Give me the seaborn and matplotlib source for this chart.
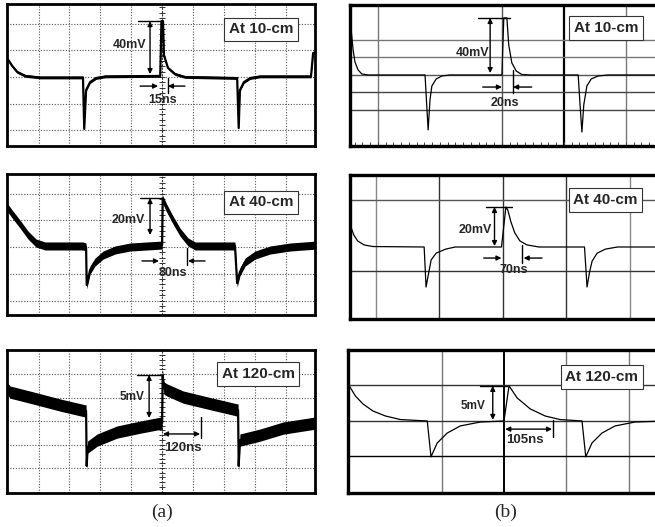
import numpy as np
import matplotlib
matplotlib.use('Agg')
import matplotlib.pyplot as plt
import seaborn as sns

# traces, in scope divisions (x: time div, y: volt div)
# (a) measured
a10_t = [-5.02, -4.85, -4.69, -4.43, -3.95, -2.56, -2.52, -2.46, -2.33, -2.14, -1.84,
         -0.06, -0.02, 0.03, 0.06, 0.19, 0.42, 0.74, 2.43, 2.48, 2.52, 2.65, 2.85,
         3.17, 4.82, 4.89, 4.95]
a10_v = [0.71, 0.41, 0.19, 0.04, -0.02, -0.02, -1.94, -0.49, -0.19, -0.04, 0.02,
         0.04, 2.09, 2.09, 0.82, 0.34, 0.11, 0.0, -0.04, -1.91, -0.49, -0.19, -0.04,
         0.02, 0.02, 0.9, 0.9]

a40_t = [-5.02, -4.85, -4.6, -4.34, -4.08, -3.79, -2.56, -2.46, -2.44, -2.33, -2.17,
         -1.91, -1.52, -1.04, -0.06, 0.0, 0.02, 0.13, 0.32, 0.58, 0.84, 1.07, 2.36,
         2.43, 2.52, 2.69, 3.01, 3.5, 4.14, 4.95]
a40_v = [1.5, 1.23, 0.86, 0.45, 0.15, 0.04, 0.04, 0.0, -1.42, -0.86, -0.56,
         -0.3, -0.11, 0.0, 0.07, 0.07, 1.79, 1.5, 1.08, 0.56, 0.19, 0.04, 0.04,
         -1.35, -0.93, -0.56, -0.3, -0.11, 0.0, 0.07]

a120_t = [-5.02, -4.92, -4.17, -3.3, -2.49, -2.46, -2.44, -2.41, -2.1, -1.46, -0.71,
          -0.03, 0.0, 0.02, 0.06, 0.16, 0.68, 1.46, 2.43, 2.46, 2.48, 2.52, 3.17,
          3.92, 4.95]
a120_v = [1.4, 1.23, 0.98, 0.68, 0.43, 0.43, -1.91, -1.11, -0.81, -0.47, -0.26,
          -0.09, -0.09, 1.91, 1.4, 1.32, 1.02, 0.77, 0.47, 0.47, -1.91, -0.81, -0.6,
          -0.3, -0.09]

# (b) simulated
b10_t = [-2.44, -2.4, -2.37, -2.32, -2.26, -2.16, -1.24, -1.19, -1.16, -1.13, -1.06,
         -0.97, -0.84, 0.0, 0.03, 0.08, 0.11, 0.16, 0.23, 0.32, 0.45, 1.23, 1.26,
         1.29, 1.32, 1.37, 1.44, 1.55, 1.71, 2.63]
b10_v = [2.91, 1.43, 0.74, 0.29, 0.06, 0.0, 0.0, -3.14, -1.43, -0.63, -0.23,
         -0.06, 0.0, 0.0, 3.26, 3.26, 1.71, 0.69, 0.23, 0.03, 0.0, 0.0, -1.71,
         -3.26, -1.71, -0.63, -0.23, -0.06, 0.0, 0.0]

b40_t = [-2.43, -2.4, -2.35, -2.29, -2.19, -2.05, -1.24, -1.21, -1.16, -1.13, -1.05,
         -0.9, -0.75, -0.02, 0.05, 0.08, 0.13, 0.19, 0.27, 0.38, 0.57, 1.29, 1.33,
         1.37, 1.41, 1.49, 1.62, 1.81, 2.56]
b40_v = [1.4, 0.89, 0.51, 0.26, 0.09, 0.02, 0.0, -1.7, -0.98, -0.55, -0.26,
         -0.09, 0.0, 0.0, 1.7, 1.57, 1.06, 0.6, 0.26, 0.09, 0.0, 0.0, -1.7,
         -1.06, -0.6, -0.26, -0.09, 0.0, 0.0]

b120_t = [-2.48, -2.38, -2.26, -2.1, -1.9, -1.66, -1.23, -1.17, -1.07, -0.91, -0.7,
          -0.38, 0.0, 0.08, 0.21, 0.42, 0.66, 0.9, 1.25, 1.31, 1.41, 1.57, 1.78,
          2.1, 2.58]
b120_v = [0.99, 0.7, 0.48, 0.28, 0.14, 0.04, 0.0, -1.01, -0.62, -0.34, -0.14,
          -0.03, 0.0, 0.99, 0.65, 0.34, 0.14, 0.04, 0.0, -1.01, -0.62, -0.34, -0.14,
          -0.03, 0.0]

labels = ['At 10-cm', 'At 40-cm', 'At 120-cm']
amp_a = ['40mV', '20mV', '5mV']
width_a = ['15ns', '80ns', '120ns']
amp_b = ['40mV', '20mV', '5mV']
width_b = ['20ns', '70ns', '105ns']

W, H = 655, 527
sns.set_style('white')
plt.rcParams['font.family'] = ['Liberation Sans', 'DejaVu Sans']

fig = plt.figure(figsize=(W / 100, H / 100), dpi=100)


def add_ax(l, t, r, b):
    return fig.add_axes([l / W, 1 - b / H, (r - l) / W, (b - t) / H])


def frame(ax, xlim, ylim, lw):
    ax.set_xlim(*xlim)
    ax.set_ylim(*ylim)
    ax.set_xticks([])
    ax.set_yticks([])
    for s in ax.spines.values():
        s.set_visible(True)
        s.set_color('black')
        s.set_linewidth(lw)


def vdim(ax, x, y0, y1, x0, x1, txt, tx, ty, fs=9, weight='bold'):
    ax.plot([x0, x1], [y1, y1], color='black', lw=1)
    ax.annotate('', xy=(x, y1), xytext=(x, y0),
                arrowprops=dict(arrowstyle='<|-|>', color='black', lw=1,
                                mutation_scale=7, shrinkA=0, shrinkB=0))
    ax.text(tx, ty, txt, ha='center', va='center', fontsize=fs, fontweight=weight)


def inward(ax, y, xl0, xl1, xr0, xr1):
    for a, b in [(xl0, xl1), (xr0, xr1)]:
        ax.annotate('', xy=(b, y), xytext=(a, y),
                    arrowprops=dict(arrowstyle='-|>', color='black', lw=1,
                                    mutation_scale=7, shrinkA=0, shrinkB=0))


def tag(ax, x, y, txt):
    ax.text(x, y, txt, ha='center', va='center', fontsize=11, fontweight='bold',
            bbox=dict(boxstyle='square,pad=0.3', fc='white', ec='#333333', lw=0.8),
            zorder=5)


# ---------- column (a): measured ----------
a_rects = [(7, 4, 315, 146), (7, 174, 315, 315), (7, 350, 315, 493)]
a_ylims = [(-2.58, 2.73), (-2.54, 2.73), (-3.06, 3.02)]
a_traces = [(a10_t, a10_v), (a40_t, a40_v), (a120_t, a120_v)]
a_band = [0.05, 0.15, 0.26]   # noise band half width

for i, rect in enumerate(a_rects):
    ax = add_ax(*rect)
    frame(ax, (-5.02, 4.95), a_ylims[i], 2.0)
    for gx in [-4, -3, -2, -1, 1, 2, 3, 4]:
        ax.axvline(gx, color='#555555', lw=0.8, ls=(0, (1, 1.5)), zorder=0)
    for gy in [-2, -1, 0, 1, 2]:
        ax.axhline(gy, color='#555555', lw=0.8, ls=(0, (1, 1.5)), zorder=0)
    ax.axvline(0, color='#333333', lw=0.8, ls=(0, (2, 1)), zorder=0)
    ticks = np.arange(np.ceil(a_ylims[i][0] * 5) / 5, a_ylims[i][1], 0.2)
    ax.plot(np.zeros_like(ticks), ticks, ls='none', marker='_', ms=4,
            color='#333333', mew=0.7, zorder=0)

    t = np.array(a_traces[i][0])
    v = np.array(a_traces[i][1])
    ax.fill_between(t, v - a_band[i], v + a_band[i], color='black', lw=0, zorder=2)
    sns.lineplot(x=t, y=v, ax=ax, color='black', lw=1.6, sort=False,
                 estimator=None, zorder=3)

ax_a = fig.axes
# annotations (a)
vdim(ax_a[0], -0.39, 0.11, 2.09, -0.78, 0.03, amp_a[0], -1.04, 1.2)
inward(ax_a[0], -0.34, -0.71, -0.13, 0.74, 0.19)
ax_a[0].plot([0.19, 0.19], [-0.04, -0.6], color='black', lw=1)
ax_a[0].text(0.03, -0.86, width_a[0], ha='center', va='center', fontsize=9, fontweight='bold')
tag(ax_a[0], 3.2, 1.78, labels[0])

vdim(ax_a[1], -0.39, 0.45, 1.83, -0.71, 0.03, amp_a[1], -1.1, 1.01)
inward(ax_a[1], -0.52, -0.65, -0.1, 1.39, 0.84)
ax_a[1].plot([0.81, 0.81], [-0.04, -0.67], color='black', lw=1)
ax_a[1].text(0.36, -0.97, width_a[1], ha='center', va='center', fontsize=9, fontweight='bold')
tag(ax_a[1], 3.2, 1.68, labels[1])

vdim(ax_a[2], -0.42, 0.13, 1.96, -0.81, 0.03, amp_a[2], -0.97, 1.02, fs=8.5)
ax_a[2].annotate('', xy=(1.23, -0.55), xytext=(0.03, -0.55),
                 arrowprops=dict(arrowstyle='<|-|>', color='black', lw=1,
                                 mutation_scale=7, shrinkA=0, shrinkB=0))
ax_a[2].plot([1.26, 1.26], [0.17, -0.72], color='black', lw=1)
ax_a[2].text(0.68, -1.15, width_a[2], ha='center', va='center', fontsize=9.5, fontweight='bold')
tag(ax_a[2], 3.11, 2.0, labels[2])

# ---------- column (b): simulated ----------
b_rects = [(350, 5, 665, 146), (350, 175, 665, 319), (348, 350, 665, 493)]
b_xlims = [(-2.45, 2.63), (-2.41, 2.56), (-2.5, 2.58)]
b_ylims = [(-4.06, 4.0), (-3.06, 3.06), (-2.03, 2.0)]
b_traces = [(b10_t, b10_v), (b40_t, b40_v), (b120_t, b120_v)]
b_vgrid = [[(-2, '#777777', 1.0), (0, '#555555', 1.0), (1, 'black', 1.6), (2, '#777777', 1.0)],
           [(-2, '#888888', 1.0), (-1, '#333333', 1.0), (0, '#333333', 1.0), (1, '#333333', 1.0), (2, '#888888', 1.0)],
           [(-1, '#777777', 1.0), (0, 'black', 1.4), (1, '#777777', 1.0), (2, '#777777', 1.0)]]
b_hgrid = [[(2, '#777777'), (1, '#777777'), (0, '#555555'), (-1, '#444444'), (-2, '#444444')],
           [(2, '#555555'), (-1, '#333333')],
           [(1, '#333333'), (0, '#333333'), (-1, 'black')]]

ax_b = []
for i, rect in enumerate(b_rects):
    ax = add_ax(*rect)
    frame(ax, b_xlims[i], b_ylims[i], 2.4)
    for gx, c, lw in b_vgrid[i]:
        ax.axvline(gx, color=c, lw=lw, zorder=0)
    for gy, c in b_hgrid[i]:
        ax.axhline(gy, color=c, lw=1.0, zorder=0)
    sns.lineplot(x=b_traces[i][0], y=b_traces[i][1], ax=ax, color='black', lw=0.9,
                 sort=False, estimator=None, zorder=3)
    ax_b.append(ax)

# small graticule ticks on the bottom edge of the first screen
ax_b[0].set_xticks(np.arange(-2.375, 2.6, 0.125), minor=True)
ax_b[0].tick_params(which='minor', direction='in', length=3, width=0.7,
                    bottom=True, labelbottom=False, color='#444444')

vdim(ax_b[0], -0.19, 0.11, 3.26, -0.39, 0.13, amp_b[0], -0.47, 1.26)
inward(ax_b[0], -0.69, -0.31, 0.0, 0.48, 0.18)
ax_b[0].plot([0.18, 0.18], [0.29, -1.03], color='black', lw=1)
ax_b[0].text(0.05, -1.6, width_b[0], ha='center', va='center', fontsize=9, fontweight='bold')
tag(ax_b[0], 1.68, 2.69, labels[0])

vdim(ax_b[1], -0.13, 0.04, 1.7, -0.27, 0.14, amp_b[1], -0.43, 0.72)
inward(ax_b[1], -0.47, -0.3, -0.02, 0.62, 0.33)
ax_b[1].plot([0.3, 0.3], [0.09, -0.68], color='black', lw=1)
ax_b[1].text(0.17, -0.98, width_b[1], ha='center', va='center', fontsize=9, fontweight='bold')
tag(ax_b[1], 1.62, 2.0, labels[1])

vdim(ax_b[2], -0.18, 0.03, 0.99, -0.38, 0.05, amp_b[2], -0.5, 0.42, fs=8.5)
ax_b[2].annotate('', xy=(0.77, -0.23), xytext=(0.02, -0.23),
                 arrowprops=dict(arrowstyle='<|-|>', color='black', lw=1,
                                 mutation_scale=7, shrinkA=0, shrinkB=0))
ax_b[2].plot([0.78, 0.78], [0.03, -0.45], color='black', lw=1)
ax_b[2].text(0.34, -0.54, width_b[2], ha='center', va='center', fontsize=9.5, fontweight='bold')
tag(ax_b[2], 1.57, 1.24, labels[2])

fig.text(162 / W, 1 - 512 / H, '(a)', family='Liberation Serif', fontsize=14,
         ha='center', va='center')
fig.text(506 / W, 1 - 512 / H, '(b)', family='Liberation Serif', fontsize=14,
         ha='center', va='center')

fig.savefig('out.png', dpi=100)
plt.close(fig)
